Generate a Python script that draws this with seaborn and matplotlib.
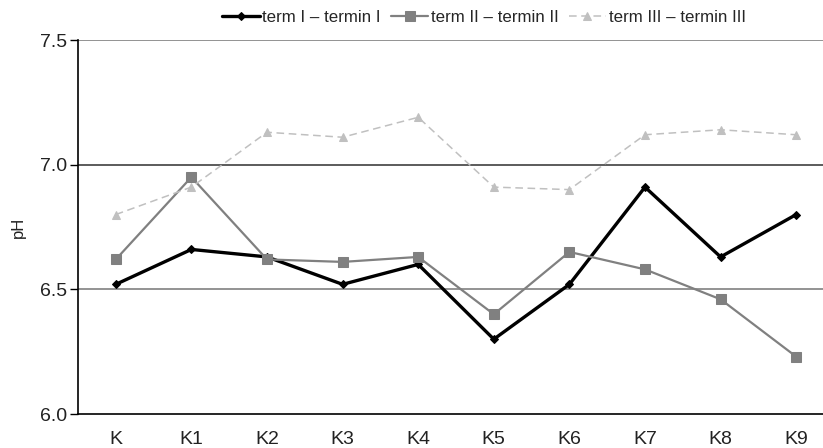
import matplotlib
matplotlib.use("Agg")
import matplotlib.pyplot as plt
import seaborn as sns
import pandas as pd

# data
categories = ["K", "K1", "K2", "K3", "K4", "K5", "K6", "K7", "K8", "K9"]
term_1 = [6.52, 6.66, 6.63, 6.52, 6.60, 6.30, 6.52, 6.91, 6.63, 6.80]
term_2 = [6.62, 6.95, 6.62, 6.61, 6.63, 6.40, 6.65, 6.58, 6.46, 6.23]
term_3 = [6.80, 6.91, 7.13, 7.11, 7.19, 6.91, 6.90, 7.12, 7.14, 7.12]
series_names = ["term I – termin I", "term II – termin II", "term III – termin III"]
y_ticks = [6.0, 6.5, 7.0, 7.5]

sns.set_theme(style="white")
plt.rcParams["font.family"] = ["Liberation Sans", "DejaVu Sans"]

fig = plt.figure(figsize=(8.23, 4.48), dpi=100)
# axis runs a bit past the right edge of the picture, like the original
ax = fig.add_axes([78 / 823, (448 - 414) / 448, 756 / 823, 374 / 448])

styles = [
    dict(color="black", lw=2.4, marker="D", ms=4.5, ls="-"),
    dict(color="#808080", lw=1.6, marker="s", ms=7, ls="-"),
    dict(color="#c0c0c0", lw=1.1, marker="^", ms=6, ls=(0, (5, 3))),
]

for name, vals, st in zip(series_names, [term_1, term_2, term_3], styles):
    df = pd.DataFrame({"cat": categories, "pH": vals})
    sns.lineplot(data=df, x="cat", y="pH", ax=ax, label=name,
                 color=st["color"], lw=st["lw"], marker=st["marker"],
                 markersize=st["ms"], linestyle=st["ls"],
                 markeredgecolor=st["color"], sort=False, zorder=3)

# horizontal reference lines
ax.axhline(7.5, color="#808080", lw=1.2, zorder=1)
ax.axhline(7.0, color="#404040", lw=1.2, zorder=1)
ax.axhline(6.5, color="#808080", lw=1.2, zorder=1)

ax.set_xlim(-0.5, 9.5)
ax.set_ylim(6.0, 7.5)
ax.set_yticks(y_ticks)
ax.set_yticklabels([f"{t:.1f}" for t in y_ticks], fontsize=14, color="#222222")
ax.set_ylabel("pH", fontsize=12, labelpad=10, color="#222222")
ax.set_xlabel("")

ax.set_xticks(range(len(categories)))
ax.set_xticklabels(categories, fontsize=14, color="#222222")
ax.set_xticks([i - 0.5 for i in range(len(categories) + 1)], minor=True)
ax.tick_params(axis="x", which="major", length=0, pad=12)
ax.tick_params(axis="x", which="minor", length=5, width=1, color="black", direction="out")
ax.tick_params(axis="y", length=6, width=1, color="black", direction="out", left=True, pad=2)

for side in ["top", "right"]:
    ax.spines[side].set_visible(False)
for side in ["left", "bottom"]:
    ax.spines[side].set_color("black")
    ax.spines[side].set_linewidth(1.2)

handles, labels = ax.get_legend_handles_labels()
ax.get_legend().remove()
fig.legend(handles, labels, loc="center", bbox_to_anchor=(484 / 823, 1 - 17 / 448),
           ncol=3, frameon=False, fontsize=12.2, handlelength=2.2,
           handletextpad=0.15, columnspacing=0.6, borderaxespad=0)

fig.savefig("out.png", dpi=100)
